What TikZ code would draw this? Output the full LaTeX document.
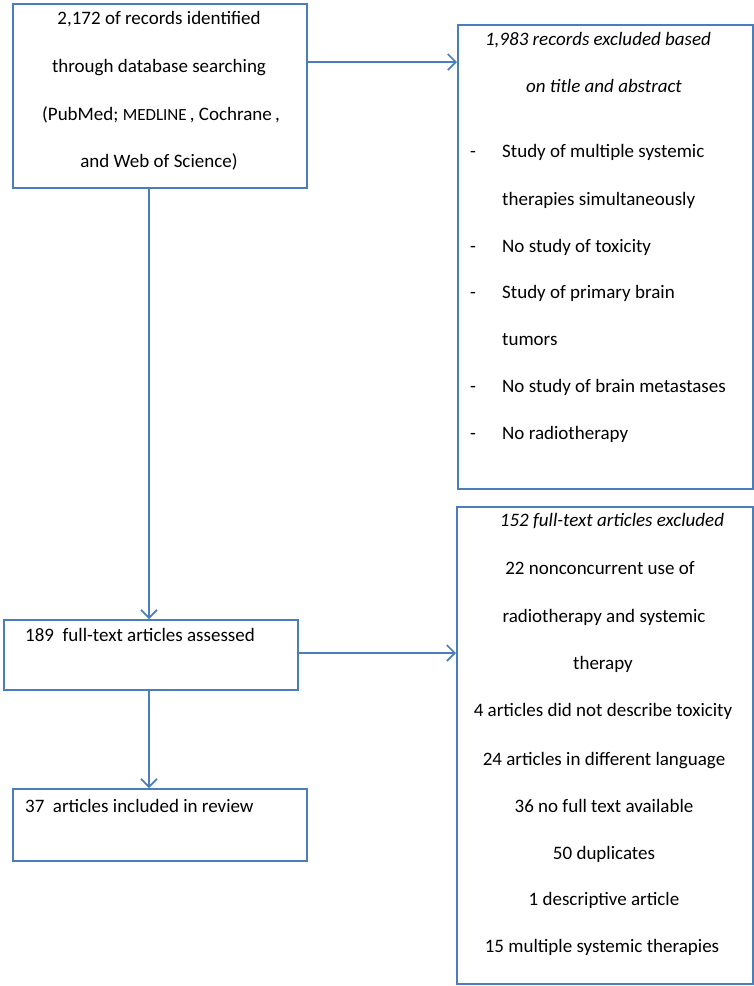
\documentclass[tikz,border=0pt]{standalone}
\usepackage{fontspec}
\setmainfont{Carlito}
\usetikzlibrary{arrows.meta}
\definecolor{lineblue}{HTML}{4A7EBB}
\tikzset{
  box/.style={draw=lineblue, line width=1.7pt, anchor=north west, inner sep=0pt},
  txt/.style={anchor=mid, inner sep=0pt, font=\fontsize{19}{22}\selectfont},
  ltxt/.style={txt, anchor=mid west},
  conn/.style={draw=lineblue, line width=1.7pt},
  arr/.style={conn, -{Straight Barb[length=8pt, width=16pt, line width=1.7pt]}}
}
\begin{document}
\begin{tikzpicture}[x=1pt,y=-1pt]
\useasboundingbox (0,0) rectangle (754,986);
% boxes
\node[box, minimum width=294pt, minimum height=184pt] (b1) at (12,3) {};
\node[box, minimum width=295pt, minimum height=464pt] (b2) at (457,24) {};
\node[box, minimum width=296pt, minimum height=477pt] (b3) at (456,506) {};
\node[box, minimum width=294pt, minimum height=70pt] (b4) at (3,619) {};
\node[box, minimum width=294pt, minimum height=72pt] (b5) at (12,788) {};
% box 1 text
\node[txt] (b1a) at (159,22) {2,172 of records identified};
\node[txt] (b1b) at (159,70) {through database searching};
\node[txt] (b1c) at (161,118) {(PubMed; {\fontsize{17}{18}\selectfont MEDLINE}\,, Cochrane\,,};
\node[txt] (b1d) at (159,165) {and Web of Science)};
% box 2 text
\node[txt] (b2a) at (598,43) {\itshape 1,983 records excluded based};
\node[txt] (b2b) at (604,90) {\itshape on title and abstract};
\node[txt] (d1) at (473,155) {-};
\node[ltxt] (b2c) at (502,155) {Study of multiple systemic};
\node[ltxt] (b2d) at (502,203) {therapies simultaneously};
\node[txt] (d2) at (473,250) {-};
\node[ltxt] (b2e) at (502,250) {No study of toxicity};
\node[txt] (d3) at (473,296) {-};
\node[ltxt] (b2f) at (502,296) {Study of primary brain};
\node[ltxt] (b2g) at (502,343) {tumors};
\node[txt] (d4) at (473,390) {-};
\node[ltxt] (b2h) at (502,390) {No study of brain metastases};
\node[txt] (d5) at (473,437) {-};
\node[ltxt] (b2i) at (502,437) {No radiotherapy};
% box 3 text
\node[txt] (b3a) at (612,524) {\itshape 152 full-text articles excluded};
\node[txt] (b3b) at (600,572) {22 nonconcurrent use of};
\node[txt] (b3c) at (604,620) {radiotherapy and systemic};
\node[txt] (b3d) at (603,667) {therapy};
\node[txt] (b3e) at (603,714) {4 articles did not describe toxicity};
\node[txt] (b3f) at (604,763) {24 articles in different language};
\node[txt] (b3g) at (604,810) {36 no full text available};
\node[txt] (b3h) at (604,857) {50 duplicates};
\node[txt] (b3i) at (604,903) {1 descriptive article};
\node[txt] (b3j) at (602,950) {15 multiple systemic therapies};
% box 4 and 5 text
\node[ltxt] (b4a) at (25,639) {189\hspace{0.45em}full-text articles assessed};
\node[ltxt] (b5a) at (25,810) {37\hspace{0.45em}articles included in review};
% connectors
\draw[arr] (b1.east |- 0,62) -- (b2.west |- 0,62);
\draw[arr] (b1.south -| 149,0) -- (b4.north -| 149,0);
\draw[arr] (b4.east |- 0,653) -- (b3.west |- 0,653);
\draw[arr] (b4.south -| 149,0) -- (b5.north -| 149,0);
\end{tikzpicture}
\end{document}
